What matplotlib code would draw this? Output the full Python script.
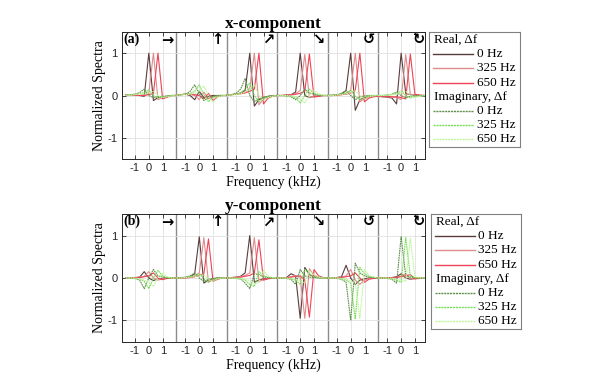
import numpy as np
import matplotlib
matplotlib.use('Agg')
import matplotlib.pyplot as plt

# frequency grid of one panel (kHz), panels are laid side by side
FREQ = [-1.625, -1.3, -0.975, -0.65, -0.325, 0.0, 0.325, 0.65, 0.975, 1.3, 1.625, 1.95]
PANEL = 3.575
ARROWS = ['\u2192', '\u2191', '\u2197', '\u2198', '\u21ba', '\u21bb']
OFFSETS = ['0 Hz', '325 Hz', '650 Hz']
TICKS = [-1, 0, 1]

# x-component, real part: 6 panels x (0, 325, 650 Hz)
X_REAL = [
    [[0.02, 0.02, 0.01, 0, -0.02, 1.0, -0.12, -0.05, -0.03, -0.02, 0, 0],
     [0.02, 0.02, 0.01, 0, 0.02, 0.05, 1.0, -0.1, -0.05, -0.03, 0, 0],
     [0.02, 0.02, 0.01, 0, 0, 0.02, 0.05, 1.0, -0.08, -0.04, 0, 0]],
    [[0.0, 0.02, 0.03, 0.0, -0.1, 0.1, -0.05, -0.02, 0, 0, 0, 0],
     [0.0, 0.02, 0.03, 0.02, 0.0, -0.1, 0.08, -0.08, -0.03, 0, 0, 0],
     [0.0, 0.02, 0.03, 0.03, 0.02, 0.0, -0.08, 0.05, -0.12, -0.03, 0, 0]],
    [[0.01, 0.02, 0.03, 0.06, 0.12, 1.0, -0.25, -0.1, -0.05, -0.02, 0, 0],
     [0.01, 0.02, 0.03, 0.05, 0.08, 0.15, 1.0, -0.22, -0.08, -0.03, -0.01, 0],
     [0.01, 0.02, 0.03, 0.04, 0.06, 0.1, 0.15, 1.0, -0.2, -0.06, -0.02, 0]],
    [[0, 0, 0.01, 0.02, 0.08, 1.0, 0.0, -0.05, -0.02, -0.01, 0, 0],
     [0, 0, 0.01, 0.02, 0.04, 0.12, 0.97, -0.05, -0.02, -0.01, 0, 0],
     [0, 0, 0.01, 0.01, 0.03, 0.05, 0.1, 0.98, -0.04, -0.02, 0, 0]],
    [[0, 0, 0.01, 0.03, 0.12, 1.0, -0.35, -0.1, -0.05, -0.03, -0.02, -0.02],
     [0, 0, 0.01, 0.02, 0.05, 0.12, 1.0, -0.15, -0.08, -0.04, -0.02, -0.02],
     [0, 0, 0.01, 0.02, 0.03, 0.06, 0.12, 1.0, -0.15, -0.06, -0.03, -0.02]],
    [[-0.02, -0.03, -0.04, -0.06, -0.2, 1.0, 0.05, 0.02, 0.01, 0, 0, 0],
     [-0.02, -0.03, -0.03, -0.04, -0.05, -0.1, 0.97, 0.03, 0.01, 0, 0, 0],
     [-0.01, -0.02, -0.02, -0.03, -0.03, -0.05, -0.08, 0.98, 0.03, 0.01, 0, 0]],
]

X_IMAG = [
    [[0.01, 0.02, 0.03, 0.07, 0.15, 0.0, -0.05, -0.03, -0.02, -0.01, 0, 0],
     [0.01, 0.02, 0.03, 0.04, 0.07, 0.13, 0.0, -0.06, -0.03, -0.02, 0, 0],
     [0.01, 0.01, 0.02, 0.03, 0.04, 0.06, 0.1, 0.0, -0.05, -0.03, -0.01, 0]],
    [[0.01, 0.02, 0.03, 0.1, 0.25, 0.05, -0.12, -0.05, -0.02, 0, 0, 0],
     [0.01, 0.02, 0.03, 0.05, 0.1, 0.25, 0.02, -0.15, -0.05, -0.02, 0, 0],
     [0.01, 0.01, 0.02, 0.03, 0.05, 0.1, 0.22, 0.0, -0.15, -0.04, -0.01, 0]],
    [[0.01, 0.02, 0.05, 0.15, 0.4, 0.0, -0.15, -0.08, -0.04, -0.02, -0.01, 0],
     [0.01, 0.02, 0.03, 0.06, 0.15, 0.3, 0.0, -0.15, -0.06, -0.03, -0.01, 0],
     [0.01, 0.01, 0.02, 0.04, 0.08, 0.15, 0.25, 0.0, -0.12, -0.05, -0.02, 0]],
    [[0, 0, -0.01, -0.03, -0.1, 0.0, 0.15, 0.06, 0.03, 0.01, 0, 0],
     [0, 0, -0.01, -0.02, -0.05, -0.18, 0.0, 0.15, 0.05, 0.02, 0, 0],
     [0, 0, 0, -0.01, -0.03, -0.08, -0.18, 0.0, 0.12, 0.04, 0.01, 0]],
    [[0, 0.01, 0.02, 0.05, 0.12, 0.0, -0.1, -0.03, -0.01, 0, 0, 0],
     [0, 0.01, 0.02, 0.03, 0.06, 0.12, -0.02, -0.1, -0.03, -0.01, 0, 0],
     [0, 0, 0.01, 0.02, 0.04, 0.07, 0.12, 0.0, -0.08, -0.03, -0.01, 0]],
    [[0, 0, 0.01, 0.03, 0.08, 0.0, -0.05, -0.02, -0.01, 0, 0, 0],
     [0, 0, 0.01, 0.02, 0.05, 0.1, 0.0, -0.06, -0.02, -0.01, 0, 0],
     [0, 0, 0.01, 0.02, 0.03, 0.06, 0.1, 0.0, -0.05, -0.02, -0.01, 0]],
]

# y-component
Y_REAL = [
    [[0, 0, 0.01, 0.02, 0.15, 0.0, -0.06, -0.02, -0.01, 0, 0, 0],
     [0, 0, 0.01, 0.02, 0.04, 0.15, 0.0, -0.05, -0.02, 0, 0, 0],
     [0, 0, 0.01, 0.01, 0.03, 0.05, 0.12, 0.0, -0.04, -0.01, 0, 0]],
    [[0, 0, 0.01, 0.03, 0.1, 0.97, -0.12, -0.05, -0.02, 0, 0, 0],
     [0, 0, 0.01, 0.02, 0.05, 0.12, 0.95, -0.1, -0.04, -0.01, 0, 0],
     [0, 0, 0, 0.01, 0.03, 0.06, 0.1, 0.92, -0.08, -0.03, 0, 0]],
    [[0, 0.01, 0.02, 0.04, 0.12, 1.0, -0.1, -0.05, -0.02, -0.01, 0, 0],
     [0, 0.01, 0.02, 0.03, 0.06, 0.12, 0.95, -0.08, -0.04, -0.01, 0, 0],
     [0, 0, 0.01, 0.02, 0.04, 0.06, 0.12, 0.9, -0.05, -0.02, 0, 0]],
    [[0, 0, 0.01, 0.1, 0.05, -0.95, 0.25, 0.08, 0.03, 0.01, 0, 0],
     [0, 0, 0.01, 0.03, 0.06, 0.02, -0.95, 0.22, 0.06, 0.02, 0, 0],
     [0, 0, 0, 0.02, 0.04, 0.05, -0.05, -0.92, 0.2, 0.05, 0.01, 0]],
    [[0, 0, 0.01, 0.03, 0.3, 0.0, -0.15, -0.05, -0.02, 0, 0, 0],
     [0, 0, 0.01, 0.02, 0.05, 0.2, -0.05, -0.15, -0.05, -0.01, 0, 0],
     [0, 0, 0, 0.01, 0.03, 0.05, 0.12, 0.0, -0.1, -0.03, -0.01, 0]],
    [[0, 0, 0, 0.01, 0.03, 0.1, 0.0, -0.03, -0.01, 0, 0, 0],
     [0, 0, 0, 0.01, 0.02, 0.05, 0.1, -0.02, -0.02, 0, 0, 0],
     [0, 0, 0, 0, 0.01, 0.03, 0.05, 0.08, -0.02, -0.01, 0, 0]],
]

Y_IMAG = [
    [[0, 0, -0.01, -0.05, -0.25, 0.0, 0.2, 0.05, 0.02, 0, 0, 0],
     [0, 0, -0.01, -0.03, -0.08, -0.25, 0.0, 0.18, 0.05, 0.01, 0, 0],
     [0, 0, 0, -0.02, -0.05, -0.1, -0.2, 0.0, 0.12, 0.03, 0, 0]],
    [[0, 0.01, 0.02, 0.05, 0.12, 0.0, -0.08, -0.03, -0.01, 0, 0, 0],
     [0, 0, 0.01, 0.03, 0.05, 0.1, -0.02, -0.1, -0.03, -0.01, 0, 0],
     [0, 0, 0.01, 0.02, 0.03, 0.05, 0.08, -0.03, -0.08, -0.02, 0, 0]],
    [[0, 0, -0.01, -0.02, -0.12, -0.25, 0.1, 0.08, 0.03, 0.01, 0, 0],
     [0, 0, -0.01, -0.02, -0.05, -0.15, -0.2, 0.15, 0.05, 0.02, 0, 0],
     [0, 0, 0, -0.01, -0.03, -0.06, -0.15, -0.1, 0.18, 0.05, 0.01, 0]],
    [[0, 0, -0.01, -0.03, -0.15, 0.2, 0.05, 0.02, 0.01, 0, 0, 0],
     [0, 0, -0.01, -0.02, -0.05, -0.15, 0.2, 0.1, 0.03, 0.01, 0, 0],
     [0, 0, 0, -0.01, -0.03, -0.06, -0.12, 0.18, 0.08, 0.02, 0, 0]],
    [[0, 0, -0.01, -0.03, -0.1, -1.0, 0.35, 0.12, 0.05, 0.02, 0.01, 0],
     [0, 0, 0, -0.02, -0.05, -0.12, -0.97, 0.25, 0.1, 0.04, 0.02, 0],
     [0, 0, 0, -0.01, -0.03, -0.06, -0.12, -0.95, 0.2, 0.06, 0.02, 0]],
    [[0, 0, -0.01, -0.03, -0.12, 0.97, 0.05, 0.02, 0.01, 0, 0, 0],
     [0, 0, 0, -0.02, -0.05, -0.1, 0.95, 0.04, 0.01, 0, 0, 0],
     [0, 0, 0, -0.01, -0.03, -0.05, -0.08, 0.93, 0.03, 0.01, 0, 0]],
]

REAL_COLORS = ['#5a3c3c', '#e08c8c', '#ee4455']
IMAG_COLORS = ['#5f8f4a', '#77dd55', '#c0f59c']

SERIF = 'Liberation Serif'
SANS = 'Liberation Sans'


def draw(ax, real, imag, title, tag):
    freq = np.array(FREQ)
    for k in range(6):
        c = k * PANEL
        for j in range(3):
            ax.plot(freq + c, real[k][j], color=REAL_COLORS[j], lw=0.8)
        for j in range(3):
            ax.plot(freq + c, imag[k][j], color=IMAG_COLORS[j], lw=0.8, ls=(0, (1.5, 0.6)))
        if k < 5:
            ax.axvline(c + FREQ[-1], color='#8a8a8a', lw=1.0, zorder=0.5)
        ax.text(c + 1.3, 1.32, ARROWS[k], ha='center', va='center', fontsize=10.5,
                fontweight='bold', family=['DejaVu Sans'])
    ax.set_xlim(FREQ[0] - 0.275, 5 * PANEL + 1.69)
    ax.set_ylim(-1.5, 1.5)
    ticks = [k * PANEL + t for k in range(6) for t in TICKS]
    ax.set_xticks(ticks)
    ax.set_xticklabels([str(t) for k in range(6) for t in TICKS], family=SANS, fontsize=8)
    ax.set_yticks(TICKS)
    ax.set_yticklabels([str(t) for t in TICKS], family=SANS, fontsize=8)
    ax.grid(True, color='#e0e0e0', lw=0.6, zorder=0)
    ax.set_axisbelow(True)
    ax.tick_params(direction='in', length=3, width=0.6, colors='#262626',
                   top=True, right=True, pad=3)
    for s in ax.spines.values():
        s.set_color('#262626')
        s.set_linewidth(0.7)
    ax.set_title(title, family=SERIF, fontweight='bold', fontsize=12.5, pad=3)
    ax.set_xlabel('Frequency (kHz)', family=SERIF, fontsize=10, labelpad=2)
    ax.set_ylabel('Normalized Spectra', family=SERIF, fontsize=10, labelpad=1)
    ax.text(FREQ[0] - 0.15, 1.33, tag, ha='left', va='center', family=SERIF,
            fontweight='bold', fontsize=10)


def legend_box(rect):
    lax = fig.add_axes(rect)
    lax.set_xlim(0, 91)
    lax.set_ylim(115, 0)
    lax.set_xticks([])
    lax.set_yticks([])
    for s in lax.spines.values():
        s.set_color('#808080')
        s.set_linewidth(0.8)
    rows = [8 + 14.2 * i for i in range(8)]
    lax.text(5, rows[0], 'Real, \u0394f', family=SERIF, fontsize=9.5, va='center')
    lax.text(5, rows[4], 'Imaginary, \u0394f', family=SERIF, fontsize=9.5, va='center')
    for j in range(3):
        lax.plot([4, 44], [rows[1 + j], rows[1 + j]], color=REAL_COLORS[j], lw=1.0)
        lax.text(48, rows[1 + j], OFFSETS[j], family=SERIF, fontsize=9.5, va='center')
        lax.plot([4, 44], [rows[5 + j], rows[5 + j]], color=IMAG_COLORS[j], lw=1.0,
                 ls=(0, (1.5, 0.6)))
        lax.text(48, rows[5 + j], OFFSETS[j], family=SERIF, fontsize=9.5, va='center')


fig = plt.figure(figsize=(5.98, 3.84), dpi=100)
ax1 = fig.add_axes([122 / 598, 1 - 159 / 384, 303 / 598, 127 / 384])
ax2 = fig.add_axes([122 / 598, 1 - 341.7 / 384, 303 / 598, 127.4 / 384])
draw(ax1, X_REAL, X_IMAG, 'x-component', '(a)')
draw(ax2, Y_REAL, Y_IMAG, 'y-component', '(b)')
legend_box([429 / 598, 1 - 147 / 384, 91 / 598, 115 / 384])
legend_box([431 / 598, 1 - 329 / 384, 90 / 598, 115 / 384])

fig.savefig('out.png', dpi=100)
